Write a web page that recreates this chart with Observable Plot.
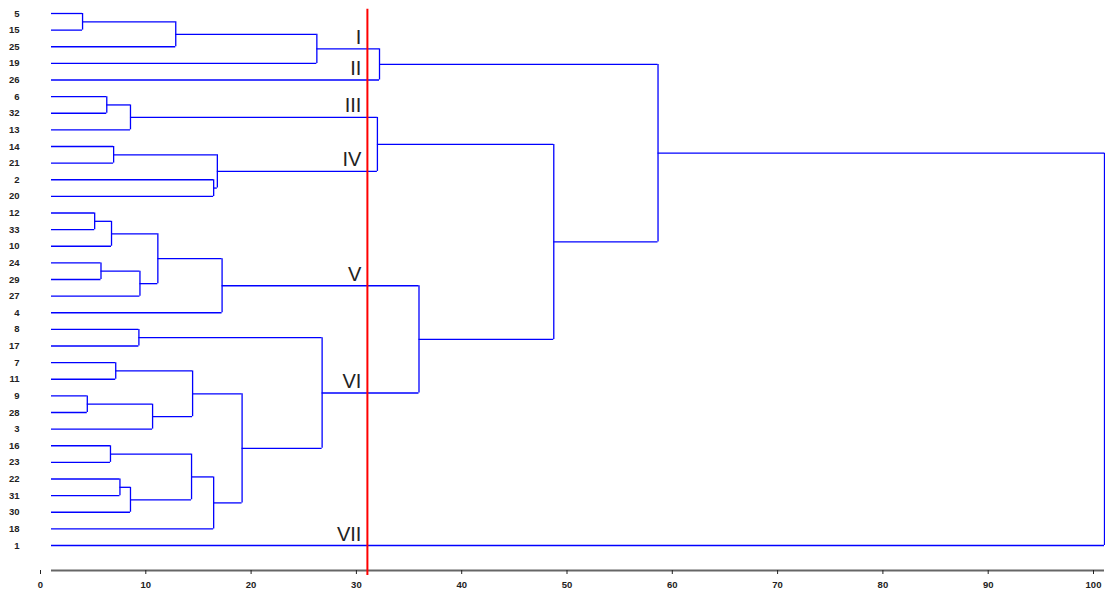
<!DOCTYPE html>
<html>
<head>
<meta charset="utf-8">
<script src="https://cdn.jsdelivr.net/npm/d3@7"></script>
<script src="https://cdn.jsdelivr.net/npm/@observablehq/plot@0.6"></script>
<style>
  html, body { margin: 0; padding: 0; background: #fff; }
  #chart svg { display: block; }
</style>
</head>
<body>
<div id="chart"></div>
<script>
// Leaf order, top to bottom
const leaves = ["5","15","25","19","26","6","32","13","14","21","2","20","12","33","10",
  "24","29","27","4","8","17","7","11","9","28","3","16","23","22","31","30","18","1"];

// Merges: [childA, childB, linkage distance]; merge i creates node "n"+i
const merges = [
  ["5","15",2.95],    // n0
  ["n0","25",11.8],   // n1
  ["n1","19",25.2],   // n2
  ["n2","26",31.15],  // n3
  ["6","32",5.25],    // n4
  ["n4","13",7.5],    // n5
  ["14","21",5.9],    // n6
  ["2","20",15.4],    // n7
  ["n6","n7",15.75],  // n8
  ["n5","n8",30.95],  // n9
  ["12","33",4.1],    // n10
  ["n10","10",5.7],   // n11
  ["24","29",4.7],    // n12
  ["n12","27",8.4],   // n13
  ["n11","n13",10.1], // n14
  ["n14","4",16.2],   // n15
  ["8","17",8.3],     // n16
  ["7","11",6.1],     // n17
  ["9","28",3.4],     // n18
  ["n18","3",9.6],    // n19
  ["n17","n19",13.4], // n20
  ["16","23",5.6],    // n21
  ["22","31",6.5],    // n22
  ["n22","30",7.5],   // n23
  ["n21","n23",13.3], // n24
  ["n24","18",15.4],  // n25
  ["n20","n25",18.1], // n26
  ["n16","n26",25.7], // n27
  ["n15","n27",34.9], // n28
  ["n9","n28",47.7],  // n29
  ["n3","n29",57.6],  // n30
  ["n30","1",100]     // n31
];

// Cluster labels and the branch they annotate
const clusterNames = ["I","II","III","IV","V","VI","VII"];
const clusterNodes = ["n2","26","n5","n8","n15","n27","1"];

const cutLevel = 30;
const xTicks = [0,10,20,30,40,50,60,70,80,90,100];

// Build segments
const node = new Map();
leaves.forEach((d, i) => node.set(d, {y: i, h: 0}));
const hSegs = [], vSegs = [];
merges.forEach(([a, b, h], i) => {
  const A = node.get(a), B = node.get(b);
  hSegs.push({x1: A.h, x2: h, y: A.y});
  hSegs.push({x1: B.h, x2: h, y: B.y});
  vSegs.push({x: h, y1: A.y, y2: B.y});
  node.set("n" + i, {y: (A.y + B.y) / 2, h});
});
const clusters = clusterNames.map((name, i) => ({name, y: node.get(clusterNodes[i]).y}));

const chart = Plot.plot({
  width: 1105,
  height: 591,
  marginLeft: 51,
  marginRight: 0,
  marginTop: 0,
  marginBottom: 21,
  style: {fontFamily: "'Liberation Sans', Arial, sans-serif", background: "#fff"},
  x: {domain: [0, 100], range: [51, 1104]},
  y: {domain: [0, 32], range: [13, 545], axis: null},
  marks: [
    Plot.ruleY([0], {x1: 0, x2: 100, y: 33.5, stroke: "#666", strokeWidth: 2}),
    Plot.axisX({ticks: xTicks, tickSize: 4, tickPadding: 7, dx: -11, fontWeight: "bold", fontSize: 9.5, stroke: "#222", fill: "#222", label: null}),
    Plot.ruleY(hSegs, {x1: "x1", x2: "x2", y: "y", stroke: "#0000ff", strokeWidth: 1.3}),
    Plot.ruleX(vSegs, {x: "x", y1: "y1", y2: "y2", stroke: "#0000ff", strokeWidth: 1.3}),
    Plot.ruleX([cutLevel], {y1: -0.25, y2: 33.8, stroke: "#ff0000", strokeWidth: 2}),
    Plot.text(leaves, {x: 0, y: (d, i) => i, text: d => d, textAnchor: "end", dx: -32,
      fontWeight: "bold", fontSize: 9.5, fill: "#222"}),
    Plot.text(clusters, {x: cutLevel, y: "y", text: "name", textAnchor: "end", lineAnchor: "bottom",
      dx: -6, dy: -5, fontSize: 20, fill: "#222"})
  ]
});
document.getElementById("chart").append(chart);
</script>
</body>
</html>
